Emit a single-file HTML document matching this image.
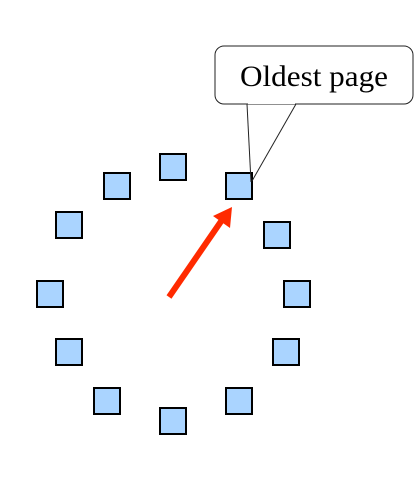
<!DOCTYPE html>
<html><head><style>html,body{margin:0;padding:0;background:#fff;width:418px;height:477px;overflow:hidden}</style></head>
<body>
<svg width="418" height="477" xmlns="http://www.w3.org/2000/svg">
<g fill="#aad4ff" stroke="#000" stroke-width="2">
<rect x="160" y="154" width="26" height="26"/>
<rect x="104" y="173" width="26" height="26"/>
<rect x="226" y="173" width="26" height="26"/>
<rect x="56" y="212" width="26" height="26"/>
<rect x="264" y="222" width="26" height="26"/>
<rect x="37" y="281" width="26" height="26"/>
<rect x="284" y="281" width="26" height="26"/>
<rect x="56" y="339" width="26" height="26"/>
<rect x="273" y="339" width="26" height="26"/>
<rect x="94" y="388" width="26" height="26"/>
<rect x="226" y="388" width="26" height="26"/>
<rect x="160" y="408" width="26" height="26"/>
</g>
<line x1="247" y1="104" x2="251" y2="182" stroke="#222" stroke-width="1"/>
<line x1="296" y1="104" x2="252" y2="181" stroke="#222" stroke-width="1"/>
<rect x="215" y="46" width="198" height="58" rx="9" fill="#fff" stroke="#222" stroke-width="1"/>
<line x1="248" y1="103" x2="295" y2="103" stroke="#fff" stroke-width="2"/>
<text x="240" y="86" font-family="Liberation Serif, serif" font-size="30" textLength="148" lengthAdjust="spacingAndGlyphs" fill="#000">Oldest page</text>
<line x1="169" y1="297" x2="222" y2="220" stroke="#ff2a00" stroke-width="6"/>
<polygon points="232,207 230,228 213,216" fill="#ff2a00"/>
</svg>
</body></html>
